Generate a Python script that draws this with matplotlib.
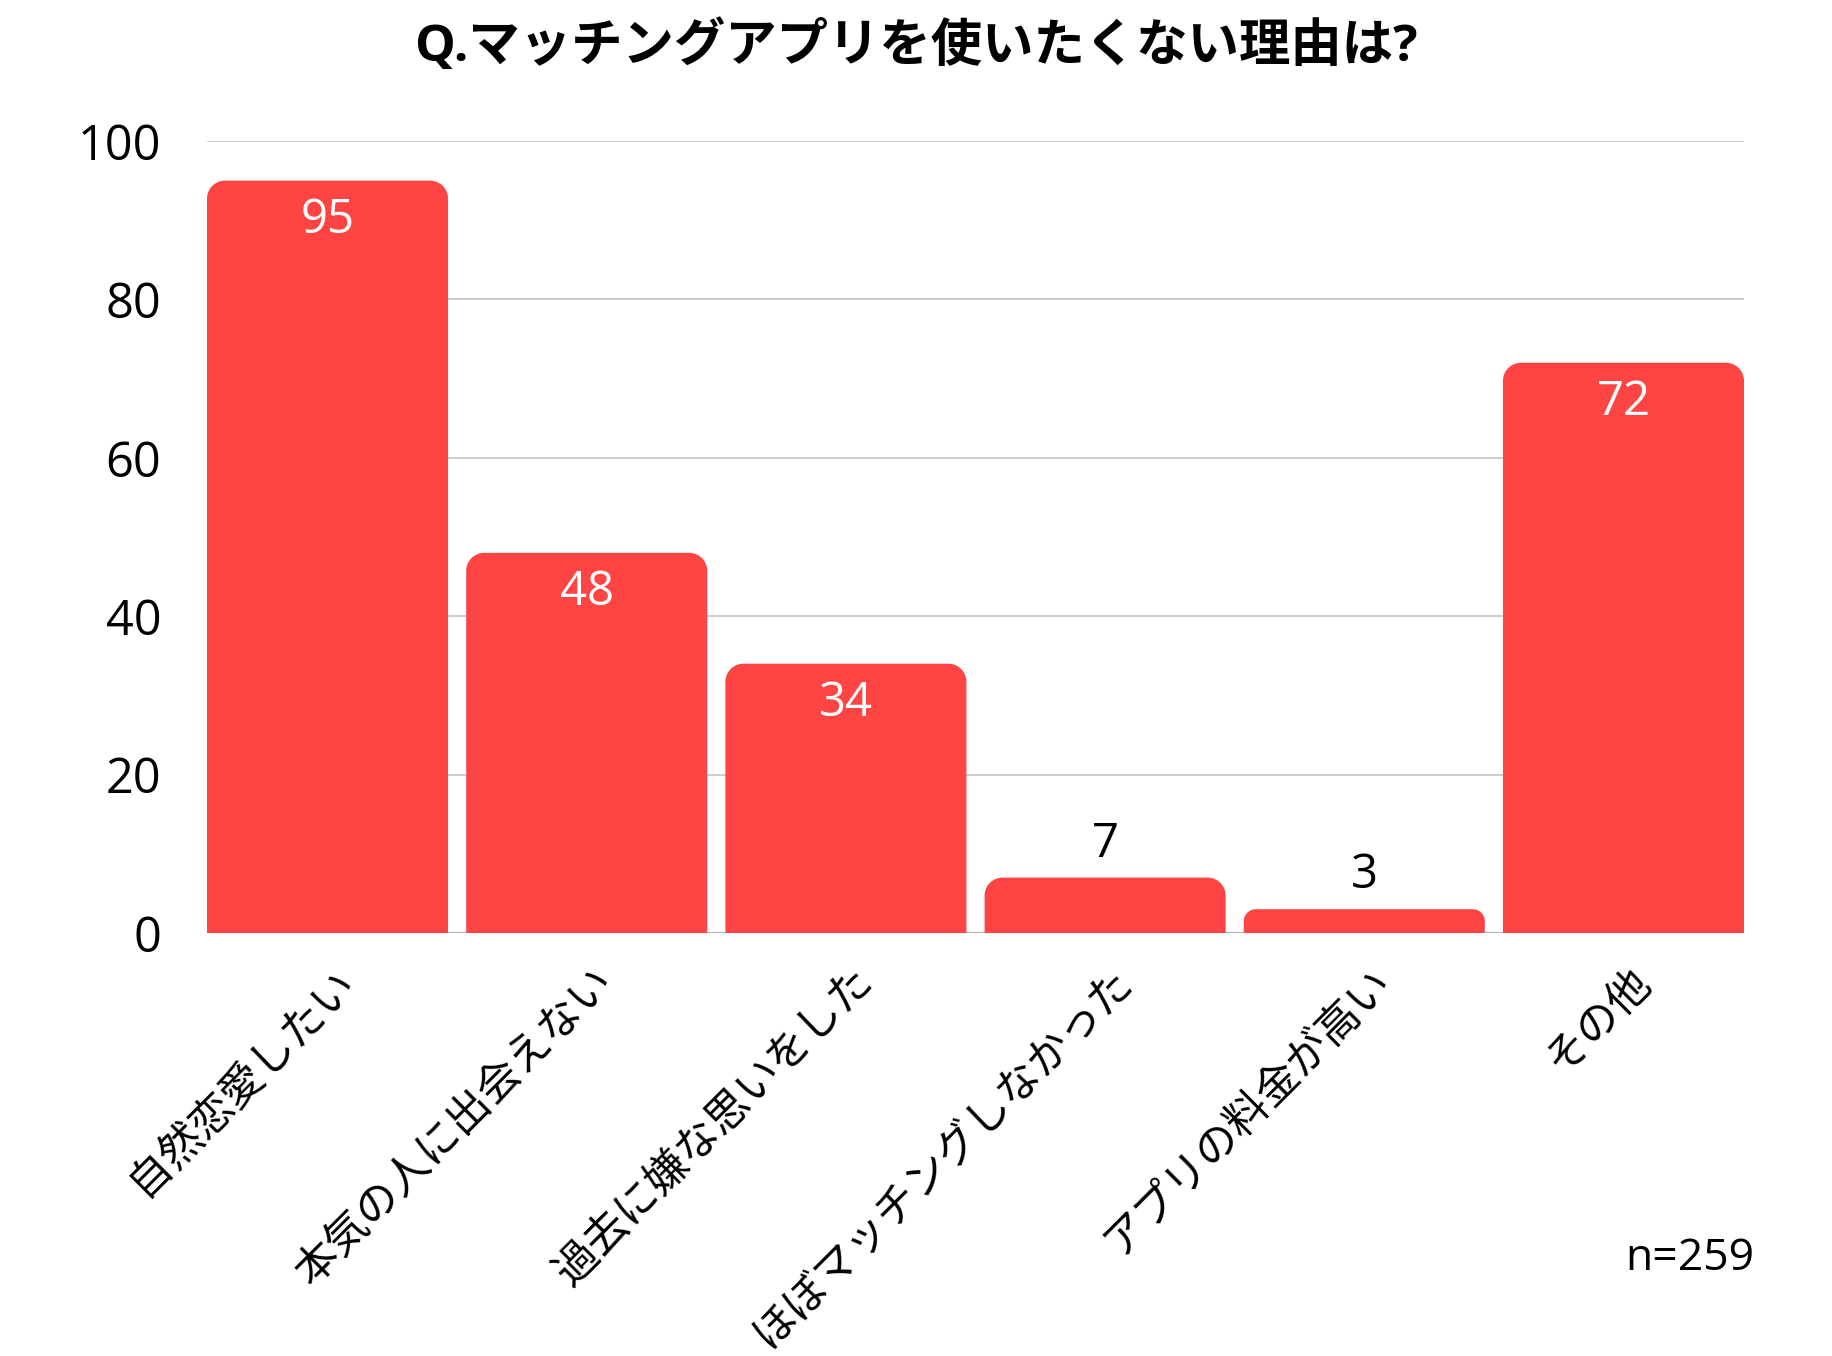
import matplotlib
matplotlib.use("Agg")
import matplotlib.pyplot as plt
from matplotlib.path import Path
from matplotlib.patches import PathPatch
from matplotlib.transforms import offset_copy, ScaledTranslation

plt.rcParams['font.family'] = ['Open Sans', 'Noto Sans CJK JP', 'DejaVu Sans']

title = "Q.マッチングアプリを使いたくない理由は?"
categories = ["自然恋愛したい", "本気の人に出会えない", "過去に嫌な思いをした",
              "ほぼマッチングしなかった", "アプリの料金が高い", "その他"]
values = [95, 48, 34, 7, 3, 72]
yticks = [0, 20, 40, 60, 80, 100]
note = "n=259"

bar_color = "#FF4444"
W, H = 1832, 1356
fig = plt.figure(figsize=(W / 100, H / 100), dpi=100)
ax = fig.add_axes([207 / W, 1 - 933 / H, (1744 - 207) / W, (933 - 141) / H])

width = 0.93
ax.set_xlim(-width / 2, len(values) - 1 + width / 2)
ax.set_ylim(0, 100)

# pixel -> data conversions for rounded corners
px_x = (1744 - 207) / (ax.get_xlim()[1] - ax.get_xlim()[0])
px_y = (933 - 141) / 100.0
r_px = 18
rx, ry = r_px / px_x, r_px / px_y
k = 0.5523

for i, v in enumerate(values):
    x0, x1 = i - width / 2, i + width / 2
    rr_y = min(ry, v / 2)
    rr_x = rx * rr_y / ry
    verts = [
        (x0, 0), (x0, v - rr_y),
        (x0, v - rr_y + k * rr_y), (x0 + rr_x - k * rr_x, v), (x0 + rr_x, v),
        (x1 - rr_x, v),
        (x1 - rr_x + k * rr_x, v), (x1, v - rr_y + k * rr_y), (x1, v - rr_y),
        (x1, 0), (x0, 0)]
    codes = [Path.MOVETO, Path.LINETO,
             Path.CURVE4, Path.CURVE4, Path.CURVE4,
             Path.LINETO,
             Path.CURVE4, Path.CURVE4, Path.CURVE4,
             Path.LINETO, Path.CLOSEPOLY]
    ax.add_patch(PathPatch(Path(verts, codes), facecolor=bar_color,
                           edgecolor='none', zorder=3))
    if v >= 20:
        t = offset_copy(ax.transData, fig=fig, x=0, y=-16, units='dots')
        ax.text(i, v, str(v), transform=t, ha='center', va='top',
                fontsize=34, color='white', zorder=4)
    else:
        t = offset_copy(ax.transData, fig=fig, x=0, y=10, units='dots')
        ax.text(i, v, str(v), transform=t, ha='center', va='bottom',
                fontsize=34, color='black', zorder=4)

ax.set_yticks(yticks)
ax.set_yticklabels([str(y) for y in yticks], fontsize=35)
ax.tick_params(axis='y', length=0, pad=33)
ax.yaxis.grid(True, color='#c8c8c8', linewidth=1.3, zorder=0)
ax.set_axisbelow(True)
for s in ax.spines.values():
    s.set_visible(False)
ax.axhline(0, color='#b0b0b0', linewidth=1.5, zorder=2)

ax.set_xticks(range(len(categories)))
ax.set_xticklabels(categories, rotation=45, ha='right', va='center',
                   rotation_mode='anchor', fontsize=31)
ax.tick_params(axis='x', length=0, pad=40)
shift = ScaledTranslation(21 / 100, 13 / 100, fig.dpi_scale_trans)
for lab in ax.get_xticklabels():
    lab.set_transform(lab.get_transform() + shift)

fig.text(0.5, 1 - 47 / H, title, ha='center', va='center', fontsize=37,
         fontweight='bold')
fig.text(1754 / W, 1 - 1259 / H, note, ha='right', va='center', fontsize=32)

fig.savefig("out.png", dpi=100, facecolor='white')
